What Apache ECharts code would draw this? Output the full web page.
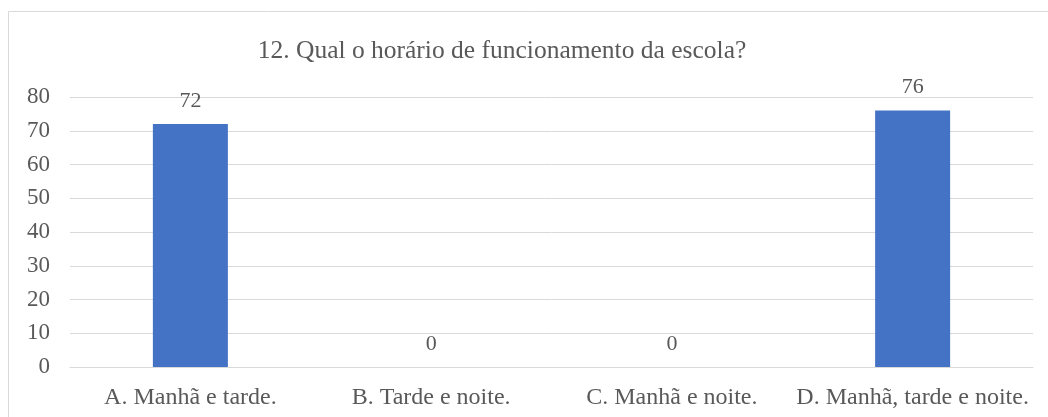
<!DOCTYPE html>
<html>
<head>
<meta charset="utf-8">
<script src="https://cdn.jsdelivr.net/npm/echarts@6/dist/echarts.min.js"></script>
<style>
html, body { margin: 0; padding: 0; background: #fff; }
#chart { width: 1048px; height: 417px; }
</style>
</head>
<body>
<div id="chart"></div>
<script>
var categories = ['A. Manhã e tarde.', 'B. Tarde e noite.', 'C. Manhã e noite.', 'D. Manhã, tarde e noite.'];
var values = [72, 0, 0, 76];
var titleText = '12. Qual o horário de funcionamento da escola?';

var font = '"Liberation Serif", "Times New Roman", serif';
var textColor = '#595959';

var myChart = echarts.init(document.getElementById('chart'));

var option = {
    backgroundColor: '#fff',
    animation: false,
    title: {
        text: titleText,
        left: 497,
        top: 33,
        textAlign: 'center',
        textStyle: {
            fontFamily: font,
            fontSize: 25.5,
            fontWeight: 'normal',
            color: textColor
        }
    },
    graphic: [{
        type: 'rect',
        silent: true,
        shape: { x: 8.5, y: 11.5, width: 1100, height: 500 },
        style: { fill: 'none', stroke: '#d9d9d9', lineWidth: 1 }
    }],
    grid: {
        left: 70,
        right: 15,
        top: 97,
        bottom: 50,
        containLabel: false
    },
    xAxis: {
        type: 'category',
        data: categories,
        axisLine: { lineStyle: { color: '#d9d9d9', width: 1 } },
        axisTick: { show: false },
        axisLabel: {
            margin: 19,
            fontFamily: font,
            fontSize: 24,
            color: textColor,
            interval: 0
        }
    },
    yAxis: {
        type: 'value',
        min: 0,
        max: 80,
        interval: 10,
        axisLine: { show: false },
        axisTick: { show: false },
        splitLine: { lineStyle: { color: '#d9d9d9', width: 1 } },
        axisLabel: {
            margin: 20,
            fontFamily: font,
            fontSize: 23,
            color: textColor
        }
    },
    series: [{
        type: 'bar',
        data: values,
        barWidth: 75,
        itemStyle: { color: '#4472C4' },
        label: {
            show: true,
            position: 'top',
            distance: 12,
            fontFamily: font,
            fontSize: 22,
            color: textColor
        }
    }]
};

myChart.setOption(option);
</script>
</body>
</html>
